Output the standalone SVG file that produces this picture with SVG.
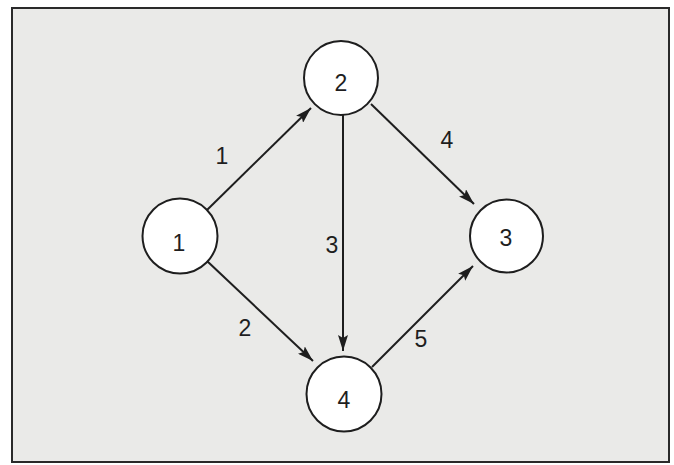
<svg xmlns="http://www.w3.org/2000/svg" width="674" height="465" viewBox="0 0 674 465">
  <style>
    .frame { fill: #eaeae8; stroke: #2a2a2a; stroke-width: 2; }
    .node circle { fill: #ffffff; stroke: #1e1e1e; stroke-width: 2; }
    .lbl { font-family: "Liberation Sans", "DejaVu Sans", sans-serif; font-size: 23px; fill: #1e1e1e; text-anchor: middle; }
    .edge { stroke: #1e1e1e; stroke-width: 2; fill: none; marker-end: url(#arrow); }
  </style>
  <defs>
    <marker id="arrow" viewBox="0 0 16 10" refX="16" refY="5" markerWidth="16" markerHeight="10" markerUnits="userSpaceOnUse" orient="auto">
      <path d="M0,0 L16,5 L0,10 L3,5 z" fill="#1e1e1e"/>
    </marker>
  </defs>
  <rect class="frame" x="12" y="8" width="657" height="454"/>
  <g id="connectors">
    <line class="edge" x1="207" y1="210" x2="311" y2="108"/>
    <line class="edge" x1="207" y1="261" x2="313" y2="361"/>
    <line class="edge" x1="343" y1="115" x2="343" y2="351"/>
    <line class="edge" x1="371" y1="104" x2="474" y2="204"/>
    <line class="edge" x1="372" y1="367" x2="473" y2="266"/>
    <text class="lbl" x="222" y="164">1</text>
    <text class="lbl" x="245" y="336">2</text>
    <text class="lbl" x="332" y="253">3</text>
    <text class="lbl" x="447" y="148">4</text>
    <text class="lbl" x="421" y="347">5</text>
  </g>
  <g id="node1" class="node">
    <circle cx="180" cy="236" r="37.5"/>
    <text class="lbl" x="179" y="251">1</text>
  </g>
  <g id="node2" class="node">
    <circle cx="341" cy="78" r="37"/>
    <text class="lbl" x="341" y="91">2</text>
  </g>
  <g id="node3" class="node">
    <circle cx="506.5" cy="236" r="36.5"/>
    <text class="lbl" x="506" y="246">3</text>
  </g>
  <g id="node4" class="node">
    <circle cx="344" cy="394" r="37.5"/>
    <text class="lbl" x="344" y="408">4</text>
  </g>
</svg>
